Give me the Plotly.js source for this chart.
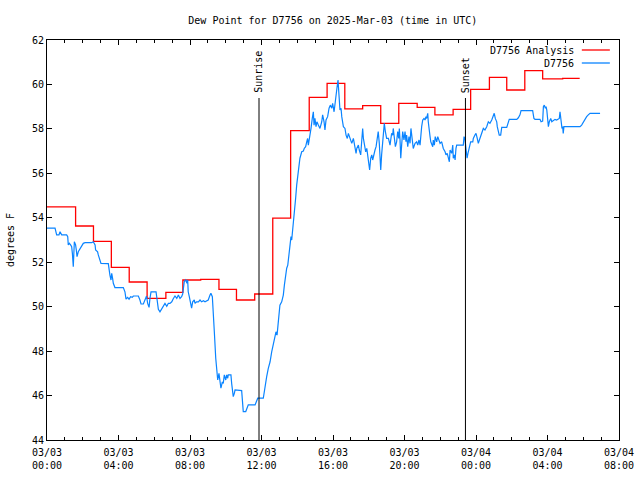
<!DOCTYPE html>
<html>
<head>
<meta charset="utf-8">
<script src="https://cdn.plot.ly/plotly-3.0.1.min.js"></script>
<style>html,body{margin:0;padding:0;background:#fff}#chart{width:640px;height:480px}</style>
</head>
<body>
<div id="chart"></div>
<script>
// ---- Data (hours after 2025-03-03 00:00 UTC) ----
const baseDay = Date.UTC(2025, 2, 3);

const analysisHours = [0, 1.6, 2.6, 3.6, 4.6, 5.6, 6.65, 7.6, 8.6, 9.62, 10.6, 11.62, 12.63, 13.63, 14.67, 15.67, 16.66, 17.66, 18.67, 19.68, 20.71, 21.7, 22.72, 23.7, 24.75, 25.72, 26.73, 27.73, 28.85, 29.8];
const analysisValues = [54.49, 53.63, 52.94, 51.77, 51.11, 50.37, 50.64, 51.2, 51.23, 50.78, 50.3, 50.57, 53.98, 57.92, 59.42, 60.05, 58.9, 59.05, 58.25, 59.15, 58.97, 58.63, 58.88, 59.78, 60.32, 59.75, 60.62, 60.25, 60.27, 60.27];

const obsHours = [0.00,0.45,0.54,0.67,0.73,0.82,1.10,1.16,1.19,1.25,1.32,1.38,1.42,1.47,1.53,1.60,1.64,1.68,1.75,1.85,1.94,2.03,2.13,2.50,2.59,2.65,2.69,2.72,2.83,2.87,2.97,3.02,3.43,3.47,3.52,3.58,3.62,3.67,3.71,3.80,4.27,4.36,4.42,4.51,4.59,4.68,4.77,4.83,5.11,5.20,5.26,5.39,5.48,5.57,5.63,5.71,5.76,5.82,6.10,6.14,6.23,6.32,6.42,6.51,6.60,6.70,6.79,6.88,6.98,7.07,7.16,7.26,7.35,7.44,7.53,7.59,7.65,7.68,7.76,7.83,7.87,7.90,7.96,8.04,8.09,8.15,8.24,8.28,8.37,8.47,8.56,8.65,8.75,8.84,9.02,9.12,9.17,9.25,9.30,9.36,9.44,9.49,9.55,9.62,9.68,9.73,9.81,9.86,9.92,10.00,10.05,10.11,10.14,10.29,10.33,10.37,10.42,10.48,10.52,10.89,10.93,10.98,11.12,11.17,11.26,11.64,11.73,11.79,12.10,12.16,12.23,12.29,12.38,12.48,12.57,12.66,12.76,12.81,12.87,12.94,12.98,13.03,13.13,13.22,13.28,13.35,13.41,13.47,13.54,13.59,13.65,13.69,13.74,13.80,13.87,13.91,13.97,14.03,14.06,14.15,14.25,14.34,14.39,14.47,14.53,14.58,14.62,14.71,14.77,14.84,14.90,14.94,14.99,15.05,15.10,15.18,15.27,15.37,15.42,15.50,15.55,15.61,15.70,15.78,15.85,15.93,15.98,16.06,16.11,16.17,16.22,16.28,16.32,16.35,16.39,16.45,16.49,16.58,16.67,16.73,16.80,16.86,16.91,16.99,17.05,17.14,17.23,17.29,17.33,17.42,17.47,17.55,17.61,17.66,17.70,17.75,17.83,17.89,17.94,18.00,18.05,18.11,18.17,18.22,18.29,18.35,18.41,18.48,18.53,18.59,18.63,18.67,18.72,18.78,18.81,18.87,18.93,19.00,19.10,19.19,19.28,19.34,19.37,19.43,19.49,19.56,19.62,19.68,19.71,19.75,19.79,19.84,19.90,19.93,19.97,20.03,20.08,20.12,20.18,20.25,20.31,20.36,20.42,20.46,20.49,20.59,20.68,20.74,20.81,20.87,20.92,20.96,21.02,21.09,21.15,21.20,21.24,21.30,21.33,21.37,21.43,21.47,21.52,21.58,21.61,21.67,21.72,21.80,21.86,21.91,21.99,22.08,22.17,22.27,22.32,22.39,22.45,22.51,22.55,22.64,22.70,22.73,22.79,22.83,22.88,22.92,23.20,23.29,23.33,23.38,23.44,23.50,23.55,23.63,23.70,23.82,23.85,23.94,24.00,24.07,24.13,24.19,24.26,24.34,24.41,24.50,24.60,24.69,24.78,24.88,24.97,25.02,25.08,25.16,25.19,25.25,25.30,25.38,25.44,25.72,25.81,25.86,26.28,26.37,26.46,26.52,27.17,27.24,27.30,27.58,27.64,27.73,27.77,27.82,27.88,27.92,27.96,27.99,28.05,28.10,28.18,28.24,28.29,28.36,28.42,28.51,28.57,28.66,28.70,28.76,28.81,28.85,28.88,28.92,29.82,29.91,30.01,30.10,30.19,30.28,30.38,30.94];
const obsValues = [53.53,53.53,53.23,53.23,53.37,53.23,53.23,53.15,52.78,52.85,52.78,52.70,52.40,51.80,52.92,52.78,52.55,52.25,52.47,52.62,52.78,52.85,52.88,52.88,52.92,52.85,52.78,52.55,52.47,52.33,52.10,51.95,51.94,51.65,51.42,51.20,51.50,51.27,51.05,50.86,50.86,50.67,50.34,50.42,50.34,50.45,50.42,50.48,50.48,50.30,50.12,50.12,50.30,50.48,50.15,49.97,50.37,50.67,50.67,50.37,49.88,49.77,49.93,50.07,50.15,50.02,50.15,50.15,50.22,50.37,50.48,50.37,50.52,50.37,50.45,50.57,50.90,51.13,51.20,51.05,51.20,50.67,50.45,50.15,49.93,50.22,50.30,50.15,50.22,50.22,50.30,50.22,50.27,50.22,50.30,50.52,50.60,50.45,49.85,48.88,47.68,47.15,46.70,47.00,46.47,46.33,46.62,46.55,46.93,46.70,46.93,46.78,46.93,46.93,46.55,46.25,45.95,46.10,46.25,46.22,45.65,45.28,45.28,45.43,45.58,45.58,45.72,45.88,45.88,46.25,46.55,46.85,47.22,47.52,47.97,48.27,48.57,48.87,48.72,49.32,49.77,50.07,50.22,50.52,50.97,51.42,51.73,51.87,52.32,52.70,53.15,53.00,53.37,53.82,54.35,54.88,55.48,55.93,56.22,56.68,56.97,57.00,57.12,57.20,57.42,57.57,57.27,57.65,58.02,58.47,58.77,58.17,58.47,58.10,58.32,58.17,58.02,58.32,58.63,58.32,57.95,58.40,58.55,58.93,59.07,58.93,59.15,58.77,59.22,59.52,59.83,60.20,59.67,58.93,58.85,58.93,58.55,58.10,58.02,57.72,57.57,57.80,57.65,57.42,57.35,57.57,57.05,56.90,57.12,57.27,57.05,56.83,57.50,58.02,57.57,57.27,56.97,57.12,56.75,56.38,56.15,56.68,56.83,56.60,56.90,57.05,57.20,57.57,57.88,57.35,56.83,56.15,56.83,57.42,58.02,58.25,57.88,57.57,57.57,57.27,57.80,57.72,58.02,57.57,57.20,57.42,57.88,57.57,58.02,57.50,56.68,57.27,57.88,57.72,57.50,57.88,57.42,57.72,57.20,57.65,57.35,58.02,57.50,57.27,57.12,57.35,57.42,57.27,57.50,57.27,57.88,58.10,58.40,58.47,58.40,58.55,58.47,58.70,58.32,57.88,57.65,57.42,57.35,57.20,57.50,57.27,57.65,57.42,57.65,57.50,57.35,57.42,57.12,56.97,56.83,56.90,56.68,56.52,57.05,56.90,57.27,56.68,56.83,56.60,57.12,57.27,57.27,57.27,57.65,57.57,57.12,56.68,56.90,57.12,57.42,57.42,57.57,57.72,57.80,57.57,57.35,57.50,57.65,57.80,58.02,57.95,58.10,58.32,58.25,58.40,58.63,58.70,58.47,58.32,58.10,57.95,57.72,57.72,58.07,58.07,58.25,58.43,58.43,58.50,58.63,58.82,58.82,58.47,58.43,58.43,58.32,58.35,59.00,59.07,58.93,59.00,58.85,58.47,58.10,58.32,58.47,58.32,58.35,58.40,58.43,58.40,58.43,58.47,58.77,58.32,58.02,58.10,57.80,58.10,58.10,58.17,58.32,58.45,58.55,58.63,58.70,58.70];

const sunriseHour = 11.86;
const sunsetHour = 23.41;

const tickHours = [0, 4, 8, 12, 16, 20, 24, 28, 32];
const tickLabels = ['03/03<br>00:00','03/03<br>04:00','03/03<br>08:00','03/03<br>12:00','03/03<br>16:00','03/03<br>20:00','03/04<br>00:00','03/04<br>04:00','03/04<br>08:00'];

const seriesNames = ['D7756 Analysis', 'D7756'];
const seriesColors = ['#ff0000', '#0a84ff'];

// ---- helpers ----
function toDate(h) {
  return new Date(baseDay + Math.round(h * 3600000)).toISOString().slice(0, 19).replace('T', ' ');
}

const FONT = {family: 'DejaVu Sans Mono, monospace', size: 10, color: '#000'};

const traces = [
  {
    x: analysisHours.map(toDate), y: analysisValues, type: 'scatter', mode: 'lines',
    name: seriesNames[0], line: {color: seriesColors[0], width: 1.3, shape: 'hv'}, hoverinfo: 'skip'
  },
  {
    x: obsHours.map(toDate), y: obsValues, type: 'scatter', mode: 'lines',
    name: seriesNames[1], line: {color: seriesColors[1], width: 1.2}, hoverinfo: 'skip'
  }
];

const lineTop = 0.855;
const shapes = [
  {type: 'line', xref: 'x', yref: 'paper', x0: toDate(sunriseHour), x1: toDate(sunriseHour), y0: 0, y1: lineTop, line: {color: '#000', width: 1}},
  {type: 'line', xref: 'x', yref: 'paper', x0: toDate(sunsetHour), x1: toDate(sunsetHour), y0: 0, y1: lineTop, line: {color: '#000', width: 1}},
  // legend samples
  {type: 'line', xref: 'paper', yref: 'paper', x0: 0.935, x1: 0.984, y0: 0.975, y1: 0.975, line: {color: seriesColors[0], width: 1.3}},
  {type: 'line', xref: 'paper', yref: 'paper', x0: 0.935, x1: 0.984, y0: 0.9425, y1: 0.9425, line: {color: seriesColors[1], width: 1.3}}
];

const annotations = [
  {text: 'Sunrise', xref: 'x', yref: 'paper', x: toDate(sunriseHour), y: lineTop + 0.008, textangle: -90, showarrow: false, xanchor: 'center', yanchor: 'bottom', font: FONT},
  {text: 'Sunset', xref: 'x', yref: 'paper', x: toDate(sunsetHour), y: lineTop + 0.008, textangle: -90, showarrow: false, xanchor: 'center', yanchor: 'bottom', font: FONT},
  {text: seriesNames[0], xref: 'paper', yref: 'paper', x: 0.924, y: 0.975, xanchor: 'right', yanchor: 'middle', showarrow: false, font: FONT},
  {text: seriesNames[1], xref: 'paper', yref: 'paper', x: 0.924, y: 0.9425, xanchor: 'right', yanchor: 'middle', showarrow: false, font: FONT}
];

const layout = {
  width: 640, height: 480,
  margin: {l: 47, r: 21, t: 40, b: 40},
  paper_bgcolor: '#fff', plot_bgcolor: '#fff',
  font: FONT,
  showlegend: false,
  title: {text: 'Dew Point for D7756 on 2025-Mar-03 (time in UTC)', font: FONT, x: 0.52, xanchor: 'center', y: 0.958, yanchor: 'middle'},
  xaxis: {
    type: 'date',
    range: [toDate(0), toDate(32)],
    tickmode: 'array', tickvals: tickHours.map(toDate), ticktext: tickLabels,
    ticks: 'inside', ticklen: 5, tickcolor: '#000', tickwidth: 1,
    ticklabelstandoff: 3,
    minor: {dtick: 3600000, tick0: toDate(0), ticks: 'inside', ticklen: 3, tickcolor: '#000'},
    showline: true, linecolor: '#000', linewidth: 1, mirror: 'ticks',
    showgrid: false, zeroline: false, tickfont: FONT
  },
  yaxis: {
    range: [44, 62], dtick: 2, tick0: 44,
    ticks: 'inside', ticklen: 5, tickcolor: '#000', tickwidth: 1,
    showline: true, linecolor: '#000', linewidth: 1, mirror: 'ticks',
    showgrid: false, zeroline: false, tickfont: FONT,
    title: {text: 'degrees F', font: FONT, standoff: 15}
  },
  shapes: shapes,
  annotations: annotations
};

Plotly.newPlot('chart', traces, layout, {staticPlot: true, displayModeBar: false});
</script>
</body>
</html>
